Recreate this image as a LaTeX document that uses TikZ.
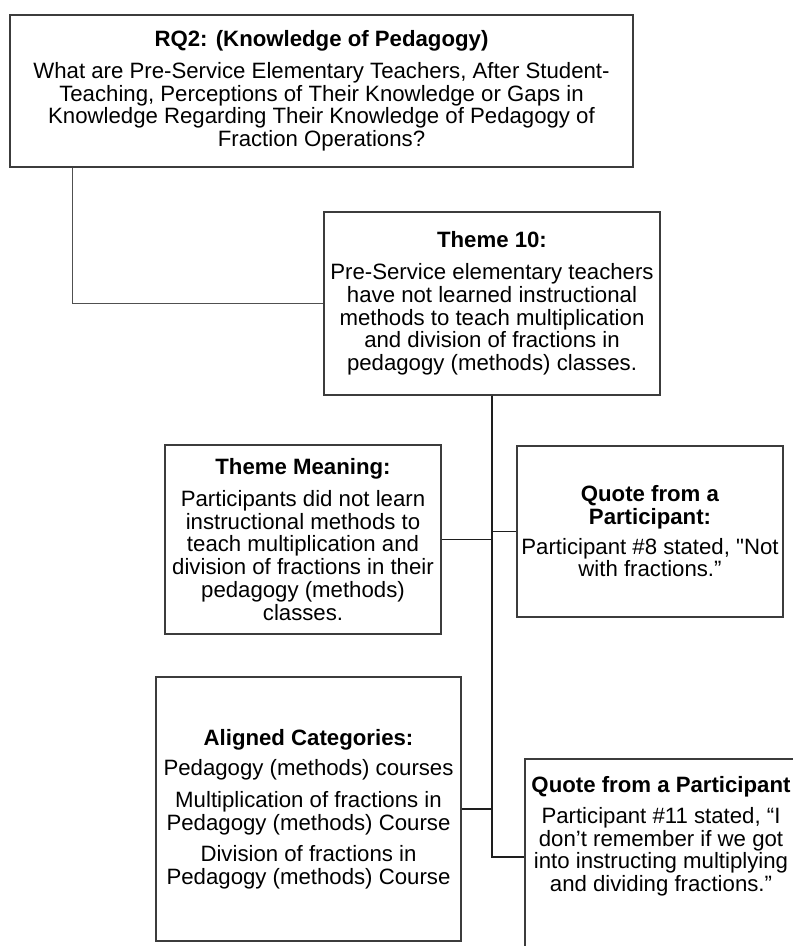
\documentclass[tikz,border=0pt]{standalone}
\usepackage{fontspec}
\setmainfont{Liberation Sans}[Ligatures=TeXOff]
\definecolor{boxgray}{RGB}{60,60,60}
\definecolor{linkgray}{RGB}{80,80,80}
\definecolor{trunkgray}{RGB}{30,30,30}
\begin{document}
\begin{tikzpicture}[x=1pt,y=-1pt,
  box/.style={draw=boxgray, line width=1.2pt, fill=white, inner sep=0pt,
    align=center, text=black, font=\fontsize{22.2}{22.7}\selectfont},
  plain/.style={inner sep=0pt, align=center, text=black,
    font=\fontsize{22.2}{22.7}\selectfont},
  link/.style={draw=linkgray, line width=1.2pt},
  trunk/.style={draw=trunkgray, line width=1.4pt}]
\clip (0,0) rectangle (793,946);

% research question
\node[box, minimum width=623pt, minimum height=152pt] (rq) at (321.5,91)
  {\textbf{RQ2: (Knowledge of Pedagogy)}\\[9pt]
   What are Pre-Service Elementary Teachers, After Student-\\
   Teaching, Perceptions of Their Knowledge or Gaps in\\
   Knowledge Regarding Their Knowledge of Pedagogy of\\
   Fraction Operations?};

% theme
\node[box, minimum width=336pt, minimum height=183pt] (t10) at (492,303.5)
  {\textbf{Theme 10:}\\[9pt]
   Pre-Service elementary teachers\\
   have not learned instructional\\
   methods to teach multiplication\\
   and division of fractions in\\
   pedagogy (methods) classes.};

% theme meaning
\node[box, minimum width=276pt, minimum height=189pt] (tm) at (303,539.5)
  {\textbf{Theme Meaning:}\\[9pt]
   Participants did not learn\\
   instructional methods to\\
   teach multiplication and\\
   division of fractions in their\\
   pedagogy (methods)\\
   classes.};

% first quote
\node[box, minimum width=266pt, minimum height=171pt] (q1) at (650,531.5)
  {\textbf{Quote from a}\\
   \textbf{Participant:}\\[7pt]
   Participant \#8 stated, "Not\\
   with fractions.”};

% aligned categories
\node[box, minimum width=305pt, minimum height=264pt] (ac) at (308.5,809)
  {\textbf{Aligned Categories:}\\[8pt]
   Pedagogy (methods) courses\\[9pt]
   Multiplication of fractions in\\
   Pedagogy (methods) Course\\[9pt]
   Division of fractions in\\
   Pedagogy (methods) Course};

% second quote (runs past the lower right edge)
\node[box, minimum width=276pt, minimum height=196pt] (q2) at (663,857) {};
\node[plain, anchor=north] (q2text) at ([xshift=-2pt,yshift=-18pt]q2.north)
  {\textbf{Quote from a Participant}\\[8pt]
   Participant \#11 stated, “I\\
   don’t remember if we got\\
   into instructing multiplying\\
   and dividing fractions.”};

% connectors
\draw[link] ([xshift=63pt]rq.south west) |- (t10.west);
\draw[trunk] (t10.south) |- (tm.east);
\draw[trunk] (t10.south) |- (q1.west);
\draw[trunk] (t10.south) |- (ac.east);
\draw[trunk] (t10.south) |- (q2.west);
\end{tikzpicture}
\end{document}
